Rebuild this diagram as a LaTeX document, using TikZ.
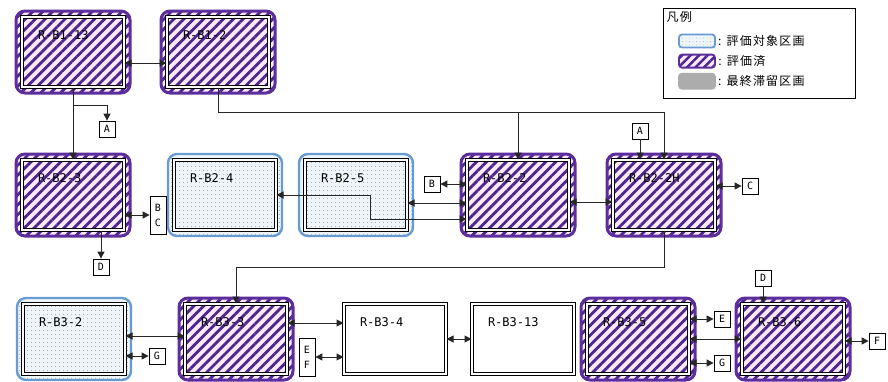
\documentclass[tikz,border=0pt]{standalone}
\usepackage{fontspec}
\newfontfamily\jpfont[LetterSpace=10]{Noto Sans CJK JP}
\newfontfamily\lblfont{DejaVu Sans Mono}
\usepackage{xcolor}
\definecolor{donebg}{RGB}{250,234,250}
\definecolor{doneline}{RGB}{78,36,142}
\definecolor{doneframe}{RGB}{92,46,156}
\definecolor{tgtbg}{RGB}{238,246,251}
\definecolor{tgtframe}{RGB}{105,155,210}
\definecolor{staybg}{RGB}{172,172,172}
\usepackage{tikz}
\usetikzlibrary{arrows.meta,positioning,calc,backgrounds,fit,patterns.meta}
\tikzset{
  rb_box/.style={rectangle,draw=black,line width=1pt,double=white,double distance=1.5pt,
    minimum width=102pt,minimum height=70pt,text width=70pt,inner xsep=16pt,inner ysep=10pt,
    text height=12pt,text depth=38pt,align=left,font=\lblfont\fontsize{12}{14}\selectfont},
  rb_done/.style={rectangle,rounded corners=9pt,draw=doneframe,line width=3pt,
    preaction={fill=donebg},pattern={Lines[angle=45,distance=7pt,line width=2.8pt]},
    pattern color=doneline,inner sep=5.5pt},
  rb_tgt/.style={rectangle,rounded corners=9pt,draw=tgtframe,line width=2.4pt,
    preaction={fill=tgtbg},pattern={Dots[distance=4pt,radius=0.5pt]},
    pattern color=black!50,inner sep=5.5pt},
  tagbox/.style={rectangle,draw=black,fill=white,line width=0.8pt,minimum width=16pt,
    minimum height=16pt,inner sep=1pt,align=center,font=\lblfont\fontsize{10}{15}\selectfont},
  legbox/.style={rectangle,draw=black,fill=white,line width=1pt,minimum width=192pt,minimum height=90pt},
  legtxt/.style={inner sep=0pt,font=\jpfont\fontsize{12}{13}\selectfont},
  sw_tgt/.style={rectangle,rounded corners=3pt,draw=tgtframe,line width=1.8pt,minimum width=36pt,
    minimum height=13pt,inner sep=0pt,preaction={fill=tgtbg},pattern={Dots[distance=3.5pt,radius=0.45pt]},
    pattern color=black!40},
  sw_done/.style={rectangle,rounded corners=3pt,draw=doneframe,line width=1.8pt,minimum width=36pt,
    minimum height=13pt,inner sep=0pt,preaction={fill=donebg},
    pattern={Lines[angle=45,distance=6pt,line width=2.4pt]},pattern color=doneline},
  sw_stay/.style={rectangle,rounded corners=3pt,draw=staybg,fill=staybg,line width=1.8pt,
    minimum width=36pt,minimum height=15pt,inner sep=0pt},
  arr/.style={-{Triangle[length=7pt,width=7pt]},line width=1pt,draw=black!85},
  darr/.style={{Triangle[length=7pt,width=7pt]}-{Triangle[length=7pt,width=7pt]},line width=1pt,draw=black!85},
}

\begin{document}
\begin{tikzpicture}[x=1pt,y=-1pt]
  \useasboundingbox (0,0) rectangle (888,381);
  % blocks
  \node (b113) [rb_box] at (73,52) {R-B1-13};
  \node (b12)  [rb_box] at (218,52) {R-B1-2};
  \node (b23)  [rb_box] at (73,195) {R-B2-3};
  \node (b24)  [rb_box] at (225,195) {R-B2-4};
  \node (b25)  [rb_box] at (356,195) {R-B2-5};
  \node (b22)  [rb_box] at (518,195) {R-B2-2};
  \node (b22h) [rb_box] at (664,195) {R-B2-2H};
  \node (b32)  [rb_box] at (74,339) {R-B3-2};
  \node (b33)  [rb_box] at (236,339) {R-B3-3};
  \node (b34)  [rb_box] at (395,339) {R-B3-4};
  \node (b313) [rb_box] at (523,339) {R-B3-13};
  \node (b35)  [rb_box] at (638,339) {R-B3-5};
  \node (b36)  [rb_box] at (793,339) {R-B3-6};
  \begin{pgfonlayer}{background}
    \foreach \n in {b113,b12,b23,b22,b22h,b33,b35,b36}
      \node[rb_done,fit=(\n),name=fr-\n]{};
    \foreach \n in {b24,b25,b32}
      \node[rb_tgt,fit=(\n),name=fr-\n]{};
  \end{pgfonlayer}
  % tags
  \node (tA1) [tagbox] at (107,129) {A};
  \node (tA2) [tagbox] at (640,131) {A};
  \node (tBC) [tagbox,minimum height=38pt] at (158,215) {B\\C};
  \node (tD1) [tagbox] at (101,267) {D};
  \node (tB)  [tagbox] at (432,184) {B};
  \node (tC)  [tagbox] at (750,186) {C};
  \node (tG1) [tagbox] at (157,356) {G};
  \node (tEF) [tagbox,minimum height=38pt] at (307,357) {E\\F};
  \node (tE)  [tagbox] at (722,319) {E};
  \node (tG2) [tagbox] at (722,363) {G};
  \node (tD2) [tagbox] at (763,278) {D};
  \node (tF)  [tagbox] at (877,341) {F};
  % legend
  \node (leg) [legbox] at (759,53) {};
  \node (legT) [legtxt,anchor=north west] at ($(leg.north west)+(4,4)$) {凡例};
  \node (sw1) [sw_tgt] at (697,41) {};
  \node (sw2) [sw_done,below=5pt of sw1] {};
  \node (sw3) [sw_stay,below=4pt of sw2] {};
  \node (lg1) [legtxt,right=2pt of sw1] {: 評価対象区画};
  \node (lg2) [legtxt,right=2pt of sw2] {: 評価済};
  \node (lg3) [legtxt,right=2pt of sw3] {: 最終滞留区画};
  % connectors
  \coordinate (j1) at ($(b113.south)+(0,18)$);
  \draw[arr] (b113.south) -- (b23.north);
  \draw[arr] (j1) -| (tA1.north);
  \draw[darr] ($(b113.east)+(0,11)$) -- ($(b12.west)+(0,11)$);
  \draw[arr] (b12.south) -- ++(0,25) -| (b22.north);
  \draw[arr] (b12.south) -- ++(0,25) -| (b22h.north);
  \draw[arr] (tA2.south) -- (tA2.south |- b22h.north);
  \draw[darr] (b23.east |- tBC) -- (tBC.west);
  \draw[arr] (b23.south -| tD1) -- (tD1.north);
  \draw[darr] (tB.east) -- (tB.east -| b22.west);
  \draw[darr] ($(b25.east)+(0,8)$) -- ($(b22.west)+(0,8)$);
  \draw[darr] (b24.east) -- ++(94,0) |- ($(b22.west)+(0,24)$);
  \draw[darr] ($(b22.east)+(0,7)$) -- ($(b22h.west)+(0,7)$);
  \draw[darr] (b22h.east |- tC) -- (tC.west);
  \draw[arr] (b22h.south) -- ++(0,37) -| (b33.north);
  \draw[darr] ($(b32.east)+(0,-3)$) -- ($(b33.west)+(0,-3)$);
  \draw[darr] (b32.east |- tG1) -- (tG1.west);
  \draw[darr] ($(b33.east)+(0,-16)$) -- ($(b34.west)+(0,-16)$);
  \draw[darr] (tEF.east) -- (tEF.east -| b34.west);
  \draw[darr] (b34.east) -- (b313.west);
  \draw[darr] (b35.east |- tE) -- (tE.west);
  \draw[darr] (b35.east) -- (b36.west);
  \draw[darr] (b35.east |- tG2) -- (tG2.west);
  \draw[arr] (tD2.south) -- (tD2.south |- b36.north);
  \draw[darr] (b36.east |- tF) -- (tF.west);
\end{tikzpicture}
\end{document}
